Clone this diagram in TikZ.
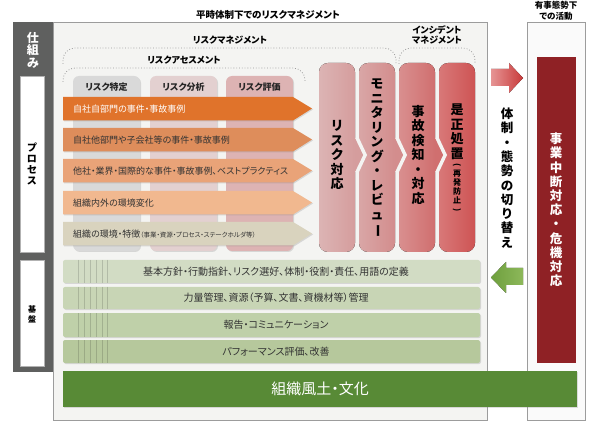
\documentclass[tikz,border=0pt]{standalone}
\usepackage{fontspec}
\setmainfont{Noto Sans CJK JP}[RawFeature=+palt]
\usetikzlibrary{positioning,
shadows % for the light shadows under the panels
}
\definecolor{shikumi}{HTML}{5F605F}
\definecolor{paneru}{HTML}{F4F4F2}
\definecolor{yuji}{HTML}{FAFAFA}
\definecolor{waku}{HTML}{9C9C9C}
\definecolor{headA}{HTML}{D9D9D9}
\definecolor{headB}{HTML}{E3D0D0}
\definecolor{headC}{HTML}{DDB3B3}
\definecolor{rowA}{HTML}{E0732B}
\definecolor{rowB}{HTML}{DE8D5B}
\definecolor{rowC}{HTML}{E9A378}
\definecolor{rowD}{HTML}{F1B88F}
\definecolor{rowE}{HTML}{D9D3BE}
\definecolor{colA1}{HTML}{DCB4B4}
\definecolor{colA2}{HTML}{D59D9D}
\definecolor{colB1}{HTML}{D9A6A6}
\definecolor{colB2}{HTML}{D38D8D}
\definecolor{colC1}{HTML}{D98F8F}
\definecolor{colC2}{HTML}{D06F6F}
\definecolor{colD1}{HTML}{D87878}
\definecolor{colD2}{HTML}{CE5454}
\definecolor{kibanA}{HTML}{D2DCC4}
\definecolor{kibanB}{HTML}{C8D5B5}
\definecolor{kibanC}{HTML}{BFD0A9}
\definecolor{kibanD}{HTML}{B6C89C}
\definecolor{fudo}{HTML}{588A36}
\definecolor{kiki}{HTML}{8F2125}
\definecolor{akaya1}{HTML}{E69494}
\definecolor{akaya2}{HTML}{C83A3A}
\definecolor{midoriya1}{HTML}{6E9F3E}
\definecolor{midoriya2}{HTML}{8DB85A}
\newcommand{\tatebo}{\rotatebox[origin=c]{-90}{ー}}
\newcommand{\tatekakko}[1]{\rotatebox[origin=c]{-90}{#1}}

\begin{document}
\begin{tikzpicture}[x=1pt, y=-1pt,
  tate/.style={align=center, inner sep=0pt, font=\bfseries\fontsize{13}{14.5}\selectfont},
  midashi/.style={align=center, inner sep=0pt, font=\bfseries\fontsize{9}{10.5}\selectfont},
  rowlabel/.style={anchor=west, inner sep=0pt, font=\fontsize{9}{9}\selectfont},
  barlabel/.style={inner sep=0pt, text=black!80, font=\fontsize{10}{10}\selectfont},
  kage/.style={drop shadow={shadow xshift=1pt, shadow yshift=-1pt, opacity=.25}},
  tenten/.style={draw=black!40, dotted, thick, rounded corners=12pt}
  ]
  \useasboundingbox (0,0) rectangle (600,422);

  % panels
  \fill[shikumi] (13,22) rectangle (53,372);
  \filldraw[fill=paneru, draw=waku, kage] (53,22) rectangle (487,420);
  \filldraw[fill=yuji, draw=waku, kage] (527,22) rectangle (585,420);
  \filldraw[fill=white, draw=black!30] (20,76) rectangle (44,252);
  \filldraw[fill=white, draw=black!30] (20,260) rectangle (44,366);
  \node[tate, text=white, font=\bfseries\fontsize{12}{12.5}\selectfont] (shikumi) at (33,50) {仕\\組\\み};
  \node[tate, font=\bfseries\fontsize{10}{11}\selectfont] (process) at (32,164) {プ\\ロ\\セ\\ス};
  \node[tate, font=\bfseries\fontsize{8}{10}\selectfont] (kiban) at (32,314) {基\\盤};

  \node[midashi, font=\bfseries\fontsize{9.5}{10}\selectfont] (heiji) at (268,15) {平時体制下でのリスクマネジメント};
  \node[midashi, font=\bfseries\fontsize{8.5}{10.5}\selectfont] (yujika) at (556,11) {有事態勢下\\での活動};

  % brackets
  \draw[tenten] (63,64) -- (63,48) -- (396,48) -- (396,64);
  \draw[tenten] (63,82) -- (63,68) -- (305,68) -- (305,82);
  \draw[tenten] (399,64) -- (399,48) -- (475,48) -- (475,64);
  \node[midashi, fill=paneru, inner sep=2pt] (riskmane) at (230,40) {リスクマネジメント};
  \node[midashi, fill=paneru, inner sep=2pt] (assess) at (184,60) {リスクアセスメント};
  \node[midashi] (incident) at (437,35) {インシデント\\マネジメント};

  % risk assessment
  \foreach \xl/\xr/\col/\name/\txt in {73/140/headA/tokutei/リスク特定, 150/217/headB/bunseki/リスク分析, 226/293/headC/hyoka/リスク評価}{
    \fill[\col, rounded corners=6pt, kage] (\xl,76) rectangle (\xr,251);
    \node[midashi, text=black!85] (\name) at ({(\xl+\xr)/2},87) {\txt};
  }
  \foreach \yt/\col/\tcol/\name/\txt in {97/rowA/white/jisha/{自社自部門の事件・事故事例},
      128/rowB/black!80/tabumon/{自社他部門や子会社等の事件・事故事例},
      159/rowC/black!80/tasha/{他社・業界・国際的な事件・事故事例、ベストプラクティス},
      191/rowD/black!80/naigai/{組織内外の環境変化},
      222/rowE/black!80/tokucho/{組織の環境・特徴{\fontsize{6.5}{7}\selectfont （事業・資源・プロセス・ステークホルダ等）}}}{
    \fill[\col, kage] (63,\yt) -- (293,\yt) -- (312,\yt+11.5) -- (293,\yt+23.5) -- (63,\yt+23.5) -- cycle;
    \node[rowlabel, text=\tcol] (\name) at (73,\yt+12) {\txt};
  }

  % response columns
  \foreach \xl/\xr/\ca/\cb in {319/355/colA1/colA2, 359/395/colB1/colB2, 399/435/colC1/colC2, 439/475/colD1/colD2}{
    \fill[left color=\ca, right color=\cb, rounded corners=9pt] (\xl,63) rectangle (\xr,252);
  }
  \foreach \xr/\cb in {355/colA2, 395/colB2, 435/colC2}{
    \fill[paneru] (\xr,138) -- (\xr+8,155) -- (\xr,172) -- (\xr+4,172) -- (\xr+12,155) -- (\xr+4,138) -- cycle;
    \fill[\cb] (\xr,138) -- (\xr+8,155) -- (\xr,172) -- cycle;
  }
  \node[tate] (taiou) at (337,155) {リ\\ス\\ク\\対\\応};
  \node[tate] (monitor) at (377,158) {モ\\ニ\\タ\\リ\\ン\\グ\\・\\レ\\ビ\\ュ\\\tatebo};
  \node[tate] (jiko) at (418,155) {事\\故\\検\\知\\・\\対\\応};
  \node[tate, anchor=north] (zesei) at (457,104) {是\\正\\処\\置};
  \node[tate, font=\bfseries\fontsize{8}{9}\selectfont, below=3pt of zesei] (saihatsu) {\tatekakko{(}\\再\\発\\防\\止\\\tatekakko{)}};

  % switching
  \fill[left color=akaya1, right color=akaya2] (491,69) -- (509,69) -- (509,63) -- (523,78) -- (509,93) -- (509,86) -- (491,86) -- cycle;
  \fill[left color=midoriya1, right color=midoriya2] (523,268) -- (506,268) -- (506,262) -- (491,277.5) -- (506,293) -- (506,285) -- (523,285) -- cycle;
  \node[tate, font=\bfseries\fontsize{12.5}{14.3}\selectfont] (kirikae) at (507,178) {体\\制\\・\\態\\勢\\の\\切\\り\\替\\え};
  \fill[kiki] (537,57) rectangle (576,363);
  \node[tate, text=white, font=\bfseries\fontsize{12.5}{14.2}\selectfont] (kiki) at (556,210) {事\\業\\中\\断\\対\\応\\・\\危\\機\\対\\応};

  % foundation
  \foreach \yt/\yb/\col/\name/\txt in {260/283/kibanA/hoshin/{基本方針・行動指針、リスク選好、体制・役割・責任、用語の定義},
      287/309/kibanB/rikiryo/{力量管理、資源（予算、文書、資機材等）管理},
      313/337/kibanC/hokoku/{報告・コミュニケーション},
      340/363/kibanD/kaizen/{パフォーマンス評価、改善}}{
    \fill[\col, rounded corners=2pt, kage] (63,\yt) rectangle (480,\yb);
    \foreach \sx in {78,84,90,96,102,107}
      \draw[black!15!\col] (\sx,\yt) -- (\sx,\yb);
    \node[barlabel] (\name) at (276,{(\yt+\yb)/2}) {\txt};
  }
  \fill[fudo, kage] (63,371) rectangle (577,407);
  \node[text=white, font=\fontsize{15}{15}\selectfont] (fudo) at (320,389) {組織風土・文化};
\end{tikzpicture}
\end{document}
